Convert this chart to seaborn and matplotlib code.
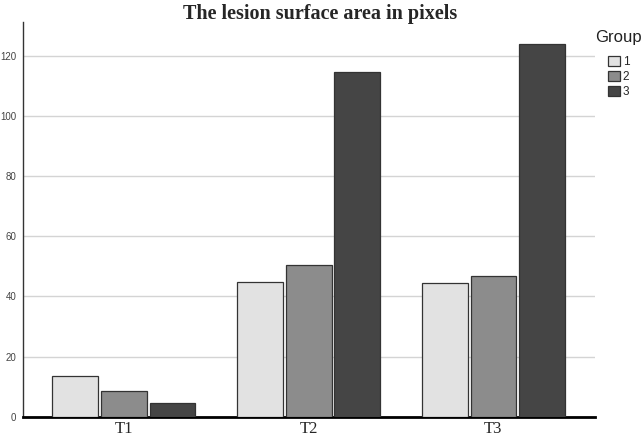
import matplotlib
matplotlib.use("Agg")
import matplotlib.pyplot as plt
import numpy as np
import pandas as pd
import seaborn as sns

# --- Data ---
timepoints = ["T1", "T2", "T3"]
group_labels = ["1", "2", "3"]
group1 = [13.5, 44.8, 44.6]
group2 = [8.5, 50.6, 46.8]
group3 = [4.5, 114.9, 124.2]

df = pd.DataFrame({
    "Time": timepoints * 3,
    "Group": np.repeat(group_labels, len(timepoints)),
    "Area": group1 + group2 + group3,
})

palette = {"1": "#e2e2e2", "2": "#8c8c8c", "3": "#454545"}

sns.set_style("white")

fig = plt.figure(figsize=(6.44, 4.38), dpi=100)
ax = fig.add_axes([0.036, 0.049, 0.888, 0.901])

sns.barplot(
    data=df, x="Time", y="Area", hue="Group", hue_order=group_labels,
    palette=palette, width=0.79, gap=0.06, edgecolor="#333333",
    linewidth=0.9, errorbar=None, ax=ax, zorder=3,
)

# --- Axes styling ---
ax.set_ylim(0, 131.5)
ax.set_xlim(-0.545, 2.55)
ax.set_yticks(np.arange(0, 121, 20))
ax.yaxis.grid(True, color="#d4d4d4", linewidth=1.0, zorder=0)
ax.set_axisbelow(True)
ax.tick_params(axis="both", length=0)
ax.tick_params(axis="y", labelsize=7, labelcolor="#444444", pad=5)
for lbl in ax.get_xticklabels():
    lbl.set_family("Liberation Serif")
    lbl.set_fontsize(12)
ax.tick_params(axis="x", pad=3)
for lbl in ax.get_yticklabels():
    lbl.set_family("Liberation Sans")

for side in ["top", "right"]:
    ax.spines[side].set_visible(False)
ax.spines["left"].set_color("#333333")
ax.spines["left"].set_linewidth(1.0)
ax.spines["bottom"].set_color("black")
ax.spines["bottom"].set_linewidth(2.0)
ax.set_xlabel("")
ax.set_ylabel("")

fig.suptitle("The lesion surface area in pixels", x=0.497, y=0.99,
             fontsize=14.5, fontweight="bold", family="Liberation Serif")

# --- Legend (title placed separately to get the gap seen in the reference) ---
fig.text(0.961, 1 - 30 / 438, "Group", ha="center", va="top",
         family="Liberation Sans", fontsize=12, color="#222222")
handles, labels = ax.get_legend_handles_labels()
ax.legend(
    handles, labels, loc="upper center",
    bbox_to_anchor=(0.961, 1 - 50 / 438), bbox_transform=fig.transFigure,
    frameon=False, borderpad=0, handlelength=0.95, handleheight=0.95,
    handletextpad=0.25, labelspacing=0.25,
    prop={"family": "Liberation Sans", "size": 8.5},
)

fig.savefig("out.png", dpi=100)
